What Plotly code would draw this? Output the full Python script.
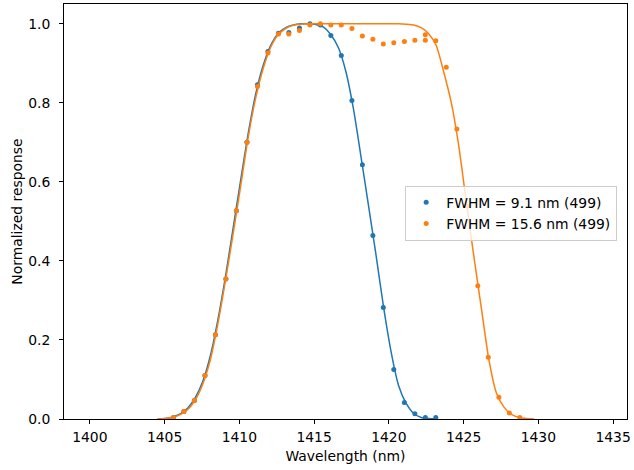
import plotly.graph_objects as go

# Measured points (wavelength in nm, normalized response)
x_blue = [1405.59, 1406.29, 1406.99, 1407.70, 1408.40, 1409.10, 1409.80, 1410.51,
          1411.21, 1411.91, 1412.61, 1413.31, 1414.02, 1414.72, 1415.42, 1416.12,
          1416.82, 1417.53, 1418.23, 1418.93, 1419.63, 1420.33, 1421.04, 1421.74,
          1422.44, 1423.14]
y_blue = [0.004, 0.019, 0.047, 0.110, 0.213, 0.354, 0.527, 0.700,
          0.846, 0.930, 0.976, 0.978, 0.989, 1.000, 0.997, 0.970,
          0.920, 0.806, 0.643, 0.464, 0.282, 0.125, 0.042, 0.013,
          0.004, 0.004]

x_orange = [1405.59, 1406.29, 1406.99, 1407.70, 1408.40, 1409.10, 1409.80, 1410.51,
            1411.21, 1411.91, 1412.61, 1413.31, 1414.02, 1414.72, 1415.42, 1416.12,
            1416.82, 1417.53, 1418.23, 1418.93, 1419.63, 1420.33, 1421.04, 1421.74,
            1422.44, 1422.44, 1423.14, 1423.84, 1424.55, 1425.25, 1425.95, 1426.65,
            1427.36, 1428.06, 1428.76]
y_orange = [0.004, 0.019, 0.047, 0.110, 0.213, 0.354, 0.527, 0.700,
            0.841, 0.926, 0.974, 0.974, 0.983, 0.997, 1.000, 0.997,
            0.997, 0.988, 0.969, 0.961, 0.949, 0.952, 0.955, 0.958,
            0.958, 0.972, 0.957, 0.890, 0.734, 0.538, 0.337, 0.156,
            0.055, 0.015, 0.004]

# Fitted curves (only where visible above 0)
x_fit = [1404.53, 1405.04, 1405.54, 1406.04, 1406.55, 1407.05, 1407.55, 1408.06, 1408.56,
         1409.07, 1409.57, 1410.07, 1410.58, 1411.08, 1411.58, 1412.09, 1412.59, 1413.10,
         1413.60, 1414.10, 1414.61, 1415.11, 1415.61, 1416.12, 1416.62, 1417.12, 1417.63,
         1418.13, 1418.64, 1419.14, 1419.64, 1420.15, 1420.65, 1421.15, 1421.66, 1422.16,
         1422.66, 1423.17, 1423.67, 1424.18, 1424.68, 1425.18, 1425.69, 1426.19, 1426.69,
         1427.20, 1427.70, 1428.21, 1428.71, 1429.21, 1429.72]
fit_blue = [0.0, 0.001, 0.005, 0.013, 0.028, 0.054, 0.095, 0.160, 0.250,
            0.360, 0.480, 0.600, 0.720, 0.820, 0.893, 0.945, 0.975, 0.990,
            0.997, 1.000, 1.000, 0.998, 0.992, 0.972, 0.940, 0.880, 0.785,
            0.665, 0.540, 0.415, 0.285, 0.170, 0.085, 0.040, 0.014, 0.004,
            0.001, 0.0]
fit_orange = [0.0, 0.001, 0.004, 0.011, 0.024, 0.048, 0.088, 0.150, 0.240,
              0.350, 0.465, 0.585, 0.710, 0.810, 0.885, 0.940, 0.972, 0.988,
              0.996, 0.999, 1.000, 1.000, 1.000, 1.000, 1.000, 1.000, 1.000,
              1.000, 1.000, 1.000, 1.000, 1.000, 1.000, 0.999, 0.997, 0.990,
              0.975, 0.945, 0.878, 0.800, 0.690, 0.550, 0.410, 0.280, 0.150,
              0.065, 0.030, 0.012, 0.004, 0.001, 0.0]

labels = ["FWHM = 9.1 nm (499)", "FWHM = 15.6 nm (499)"]
x_ticks = [1400, 1405, 1410, 1415, 1420, 1425, 1430, 1435]
y_ticks = [0.0, 0.2, 0.4, 0.6, 0.8, 1.0]

BLUE = "#1f77b4"
ORANGE = "#ff7f0e"
FONT = "DejaVu Sans"
FS = 13.9

fig = go.Figure()
fig.add_trace(go.Scatter(x=x_blue, y=y_blue, mode="markers", name=labels[0],
                         marker=dict(color=BLUE, size=5)))
fig.add_trace(go.Scatter(x=x_fit[:len(fit_blue)], y=fit_blue, mode="lines", showlegend=False,
                         line=dict(color=BLUE, width=1.5, shape="spline", smoothing=0.6)))
fig.add_trace(go.Scatter(x=x_orange, y=y_orange, mode="markers", name=labels[1],
                         marker=dict(color=ORANGE, size=5)))
fig.add_trace(go.Scatter(x=x_fit[:len(fit_orange)], y=fit_orange, mode="lines", showlegend=False,
                         line=dict(color=ORANGE, width=1.5, shape="spline", smoothing=0.6)))

axis_common = dict(showgrid=False, zeroline=False, showline=True, linecolor="black",
                   linewidth=1, mirror=True, ticks="outside", ticklen=4, tickwidth=1,
                   tickcolor="black", layer="above traces", ticklabeloverflow="allow",
                   tickfont=dict(family=FONT, size=FS, color="black"))

fig.update_layout(
    width=634, height=470,
    margin=dict(l=64, r=4, t=3, b=51),
    paper_bgcolor="white", plot_bgcolor="white",
    font=dict(family=FONT, size=FS, color="black"),
    showlegend=True,
    legend=dict(x=0.606, y=0.562, xanchor="left", yanchor="top",
                bgcolor="rgba(255,255,255,0.8)", bordercolor="#cccccc", borderwidth=1,
                font=dict(family=FONT, size=FS, color="black"),
                tracegroupgap=0),
)
fig.update_xaxes(range=[1398.27, 1435.93], tickvals=x_ticks,
                 ticktext=[str(t) for t in x_ticks], ticklabelstandoff=1,
                 title=dict(text="Wavelength (nm)", standoff=7,
                            font=dict(family=FONT, size=FS, color="black")),
                 **axis_common)
fig.update_yaxes(range=[0, 1.05], tickvals=y_ticks, tickformat=".1f",
                 ticklabelstandoff=6,
                 title=dict(text="Normalized response", standoff=2,
                            font=dict(family=FONT, size=FS, color="black")),
                 **axis_common)

# Remove the default 8 px page margin so the 634x470 figure fills the window exactly.
fig.write_html("out.html",
               config={"displayModeBar": False},
               post_script="document.body.style.margin='0';"
                           "document.body.style.overflow='hidden';")
